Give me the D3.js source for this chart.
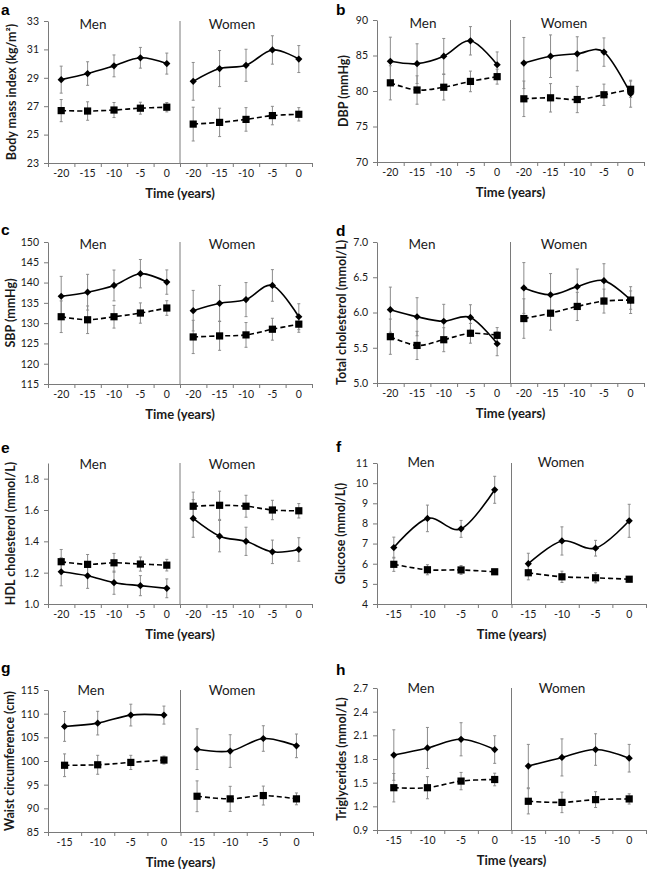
<!DOCTYPE html>
<html><head><meta charset="utf-8">
<script src="https://cdn.jsdelivr.net/npm/d3@7"></script>
<style>body{margin:0;background:#fff}</style>
</head><body><svg id="c" width="648" height="870"></svg>
<script>
// ---------- categories ----------
const years5 = [-20, -15, -10, -5, 0];
const years4 = [-15, -10, -5, 0];
const sexes = ["Men", "Women"];

// ---------- a: Body mass index ----------
const bmiCasesMen = [28.87, 29.3, 29.84, 30.41, 30.0];
const bmiCasesMenErr = [0.95, 0.83, 0.77, 0.73, 0.74];
const bmiCtrlMen = [26.69, 26.66, 26.73, 26.86, 26.93];
const bmiCtrlMenErr = [0.78, 0.65, 0.53, 0.42, 0.33];
const bmiCasesWomen = [28.75, 29.65, 29.88, 30.96, 30.32];
const bmiCasesWomenErr = [1.33, 1.27, 1.13, 1.0, 0.95];
const bmiCtrlWomen = [25.74, 25.86, 26.07, 26.34, 26.43];
const bmiCtrlWomenErr = [1.19, 1.0, 0.83, 0.65, 0.47];
const bmiTicks = [23, 25, 27, 29, 31, 33];

// ---------- b: DBP ----------
const dbpCasesMen = [84.18, 83.85, 84.9, 87.07, 83.7];
const dbpCasesMenErr = [3.4, 2.8, 2.5, 2.0, 1.8];
const dbpCtrlMen = [81.15, 80.14, 80.53, 81.35, 82.02];
const dbpCtrlMenErr = [2.4, 2.0, 1.8, 1.45, 1.05];
const dbpCasesWomen = [83.94, 84.9, 85.24, 85.48, 79.62];
const dbpCasesWomenErr = [3.6, 3.0, 2.4, 2.0, 1.9];
const dbpCtrlWomen = [78.9, 79.04, 78.8, 79.47, 80.24];
const dbpCtrlWomenErr = [2.5, 2.0, 1.85, 1.5, 1.15];
const dbpTicks = [70, 75, 80, 85, 90];

// ---------- c: SBP ----------
const sbpCasesMen = [136.63, 137.63, 139.29, 142.19, 140.12];
const sbpCasesMenErr = [4.9, 4.4, 3.8, 3.5, 3.0];
const sbpCtrlMen = [131.58, 130.83, 131.58, 132.49, 133.73];
const sbpCtrlMenErr = [3.9, 3.4, 2.8, 2.5, 1.8];
const sbpCasesWomen = [133.07, 134.89, 135.8, 139.29, 131.58];
const sbpCasesWomenErr = [5.0, 4.4, 4.2, 3.9, 3.2];
const sbpCtrlWomen = [126.6, 126.85, 127.1, 128.5, 129.75];
const sbpCtrlWomenErr = [4.1, 3.55, 3.05, 2.7, 2.0];
const sbpTicks = [115, 120, 125, 130, 135, 140, 145, 150];

// ---------- d: Total cholesterol ----------
const tcCasesMen = [6.04, 5.94, 5.876, 5.93, 5.557];
const tcCasesMenErr = [0.32, 0.27, 0.24, 0.18, 0.17];
const tcCtrlMen = [5.657, 5.533, 5.614, 5.705, 5.676];
const tcCtrlMenErr = [0.25, 0.2, 0.17, 0.14, 0.11];
const tcCasesWomen = [6.348, 6.252, 6.367, 6.452, 6.176];
const tcCasesWomenErr = [0.36, 0.3, 0.25, 0.24, 0.19];
const tcCtrlWomen = [5.914, 5.99, 6.086, 6.162, 6.176];
const tcCtrlWomenErr = [0.28, 0.24, 0.2, 0.17, 0.13];
const tcTicks = [5.0, 5.5, 6.0, 6.5, 7.0];

// ---------- e: HDL cholesterol ----------
const hdlCasesMen = [1.206, 1.18, 1.136, 1.117, 1.1];
const hdlCasesMenErr = [0.09, 0.08, 0.074, 0.064, 0.06];
const hdlCtrlMen = [1.27, 1.253, 1.263, 1.255, 1.248];
const hdlCtrlMenErr = [0.078, 0.063, 0.06, 0.045, 0.037];
const hdlCasesWomen = [1.546, 1.433, 1.40, 1.333, 1.348];
const hdlCasesWomenErr = [0.12, 0.1, 0.09, 0.075, 0.075];
const hdlCtrlWomen = [1.624, 1.63, 1.624, 1.6, 1.595];
const hdlCtrlWomenErr = [0.09, 0.09, 0.07, 0.062, 0.046];
const hdlTicks = [1.0, 1.2, 1.4, 1.6, 1.8];

// ---------- f: Glucose ----------
const gluCasesMen = [6.8, 8.25, 7.73, 9.67];
const gluCasesMenErr = [0.52, 0.66, 0.42, 0.67];
const gluCtrlMen = [5.97, 5.7, 5.69, 5.6];
const gluCtrlMenErr = [0.35, 0.25, 0.22, 0.1];
const gluCasesWomen = [6.0, 7.13, 6.77, 8.13];
const gluCasesWomenErr = [0.52, 0.7, 0.39, 0.82];
const gluCtrlWomen = [5.55, 5.35, 5.3, 5.23];
const gluCtrlWomenErr = [0.35, 0.28, 0.25, 0.12];
const gluTicks = [4, 5, 6, 7, 8, 9, 10, 11];

// ---------- g: Waist circumference ----------
const waistCasesMen = [107.3, 108.0, 109.7, 109.7];
const waistCasesMenErr = [3.15, 2.5, 2.3, 1.9];
const waistCtrlMen = [99.1, 99.2, 99.7, 100.2];
const waistCtrlMenErr = [2.4, 2.0, 1.5, 0.85];
const waistCasesWomen = [102.5, 102.1, 104.75, 103.2];
const waistCasesWomenErr = [4.3, 3.45, 2.7, 2.5];
const waistCtrlWomen = [92.55, 92.0, 92.7, 92.0];
const waistCtrlWomenErr = [3.25, 2.65, 2.0, 1.25];
const waistTicks = [85, 90, 95, 100, 105, 110, 115];

// ---------- h: Triglycerides ----------
const tgCasesMen = [1.85, 1.94, 2.05, 1.92];
const tgCasesMenErr = [0.32, 0.26, 0.21, 0.175];
const tgCtrlMen = [1.436, 1.436, 1.52, 1.54];
const tgCtrlMenErr = [0.18, 0.14, 0.11, 0.08];
const tgCasesWomen = [1.71, 1.82, 1.92, 1.81];
const tgCasesWomenErr = [0.275, 0.235, 0.2, 0.175];
const tgCtrlWomen = [1.264, 1.25, 1.285, 1.294];
const tgCtrlWomenErr = [0.16, 0.13, 0.1, 0.065];
const tgTicks = [0.9, 1.2, 1.5, 1.8, 2.1, 2.4, 2.7];

// ---------- panel definitions (built from arrays) ----------
const panels = [
  {letter: "a", label: "Body mass index (kg/m\u00B2)", years: years5, ticks: bmiTicks, yMin: 23, yMax: 33, fmt: d3.format("d"),
   Men: {cases: [bmiCasesMen, bmiCasesMenErr], ctrl: [bmiCtrlMen, bmiCtrlMenErr]},
   Women: {cases: [bmiCasesWomen, bmiCasesWomenErr], ctrl: [bmiCtrlWomen, bmiCtrlWomenErr]}},
  {letter: "b", label: "DBP (mmHg)", years: years5, ticks: dbpTicks, yMin: 70, yMax: 90, fmt: d3.format("d"),
   Men: {cases: [dbpCasesMen, dbpCasesMenErr], ctrl: [dbpCtrlMen, dbpCtrlMenErr]},
   Women: {cases: [dbpCasesWomen, dbpCasesWomenErr], ctrl: [dbpCtrlWomen, dbpCtrlWomenErr]}},
  {letter: "c", label: "SBP (mmHg)", years: years5, ticks: sbpTicks, yMin: 115, yMax: 150, fmt: d3.format("d"),
   Men: {cases: [sbpCasesMen, sbpCasesMenErr], ctrl: [sbpCtrlMen, sbpCtrlMenErr]},
   Women: {cases: [sbpCasesWomen, sbpCasesWomenErr], ctrl: [sbpCtrlWomen, sbpCtrlWomenErr]}},
  {letter: "d", label: "Total cholesterol (mmol/L)", years: years5, ticks: tcTicks, yMin: 5, yMax: 7, fmt: d3.format(".1f"),
   Men: {cases: [tcCasesMen, tcCasesMenErr], ctrl: [tcCtrlMen, tcCtrlMenErr]},
   Women: {cases: [tcCasesWomen, tcCasesWomenErr], ctrl: [tcCtrlWomen, tcCtrlWomenErr]}},
  {letter: "e", label: "HDL cholesterol (mmol/L)", years: years5, ticks: hdlTicks, yMin: 1.0, yMax: 1.9, fmt: d3.format(".1f"),
   Men: {cases: [hdlCasesMen, hdlCasesMenErr], ctrl: [hdlCtrlMen, hdlCtrlMenErr]},
   Women: {cases: [hdlCasesWomen, hdlCasesWomenErr], ctrl: [hdlCtrlWomen, hdlCtrlWomenErr]}},
  {letter: "f", label: "Glucose (mmol/L()", years: years4, ticks: gluTicks, yMin: 4, yMax: 11, fmt: d3.format("d"),
   Men: {cases: [gluCasesMen, gluCasesMenErr], ctrl: [gluCtrlMen, gluCtrlMenErr]},
   Women: {cases: [gluCasesWomen, gluCasesWomenErr], ctrl: [gluCtrlWomen, gluCtrlWomenErr]}},
  {letter: "g", label: "Waist circumference (cm)", years: years4, ticks: waistTicks, yMin: 85, yMax: 115, fmt: d3.format("d"),
   Men: {cases: [waistCasesMen, waistCasesMenErr], ctrl: [waistCtrlMen, waistCtrlMenErr]},
   Women: {cases: [waistCasesWomen, waistCasesWomenErr], ctrl: [waistCtrlWomen, waistCtrlWomenErr]}},
  {letter: "h", label: "Triglycerides (mmol/L)", years: years4, ticks: tgTicks, yMin: 0.9, yMax: 2.7, fmt: d3.format(".1f"),
   Men: {cases: [tgCasesMen, tgCasesMenErr], ctrl: [tgCtrlMen, tgCtrlMenErr]},
   Women: {cases: [tgCasesWomen, tgCasesWomenErr], ctrl: [tgCtrlWomen, tgCtrlWomenErr]}}
];

// ---------- layout (pixels) ----------
const layout = {
  a: {L: 48, T: 21, B: 163, R: 312, lx: 12, ltx: 1, lty: 15, menX: 93, womenX: 232, sexY: 29},
  b: {L: 377, T: 20, B: 162, R: 644, lx: 344, ltx: 336, lty: 15, menX: 423, womenX: 564, sexY: 28},
  c: {L: 48, T: 242, B: 384, R: 312, lx: 11, ltx: 1, lty: 235, menX: 93, womenX: 232, sexY: 249},
  d: {L: 377, T: 242, B: 383, R: 644, lx: 342, ltx: 336, lty: 236, menX: 422, womenX: 564, sexY: 249},
  e: {L: 48, T: 463, B: 604, R: 312, lx: 11, ltx: 1, lty: 453, menX: 93, womenX: 232, sexY: 469},
  f: {L: 377, T: 463, B: 604, R: 646, lx: 341, ltx: 336, lty: 452, menX: 421, womenX: 561, sexY: 467},
  g: {L: 48, T: 690, B: 832, R: 313, lx: 10, ltx: 1, lty: 673, menX: 91, womenX: 232, sexY: 695},
  h: {L: 377, T: 688, B: 830, R: 646, lx: 342, ltx: 336, lty: 675, menX: 421, womenX: 562, sexY: 693}
};

const FONT = "Lato, 'Open Sans', sans-serif";
const AXIS_COLOR = "#7a7a7a";
const TEXT_COLOR = "#1a1a1a";
const ERR_COLOR = "#8c8c8c";

const svg = d3.select("#c");

function styleAxis(sel) {
  sel.attr("color", AXIS_COLOR);
  sel.selectAll("text").attr("font-family", FONT).attr("font-size", 10.5).attr("fill", TEXT_COLOR);
}

panels.forEach(p => {
  const lay = layout[p.letter];
  const g = svg.append("g");
  const n = p.years.length;
  const keys = sexes.flatMap(s => p.years.map(y => s + "|" + y));
  const x = d3.scaleBand().domain(keys).range([lay.L, lay.R]).padding(0);
  const xb = d3.scaleLinear().domain([0, 2 * n]).range([lay.L, lay.R]);
  const y = d3.scaleLinear().domain([p.yMin, p.yMax]).range([lay.B, lay.T]);
  const cx = (s, yr) => x(s + "|" + yr) + x.bandwidth() / 2;

  // Y axis
  g.append("g").attr("transform", `translate(${lay.L},0)`)
    .call(d3.axisLeft(y).tickValues(p.ticks).tickFormat(p.fmt).tickSize(4).tickSizeOuter(0).tickPadding(5))
    .call(styleAxis);

  // X axis: ticks at category boundaries
  g.append("g").attr("transform", `translate(0,${lay.B})`)
    .call(d3.axisBottom(xb).tickValues(d3.range(2 * n + 1)).tickFormat("").tickSize(4).tickSizeOuter(0))
    .call(styleAxis);
  // X axis labels at category centres
  const xl = g.append("g").attr("transform", `translate(0,${lay.B})`)
    .call(d3.axisBottom(x).tickFormat(k => k.split("|")[1]).tickSize(0).tickPadding(7))
    .call(styleAxis);
  xl.select(".domain").remove();

  // Divider between men and women
  g.append("line")
    .attr("x1", xb(n)).attr("x2", xb(n)).attr("y1", lay.T).attr("y2", lay.B)
    .attr("stroke", AXIS_COLOR).attr("stroke-width", 1);

  // Labels
  g.append("text").attr("x", lay.ltx).attr("y", lay.lty).text(p.letter)
    .attr("font-family", "'Liberation Sans', Arial, sans-serif").attr("font-weight", "bold")
    .attr("font-size", 15.5).attr("fill", "#000");
  g.append("text")
    .attr("transform", `translate(${lay.lx},${(lay.T + lay.B) / 2}) rotate(-90)`)
    .attr("text-anchor", "middle").attr("dy", "0.35em")
    .attr("font-family", FONT).attr("font-weight", "bold").attr("font-size", 12.5)
    .attr("fill", TEXT_COLOR).text(p.label);
  g.append("text").attr("x", xb(n)).attr("y", lay.B + 35).attr("text-anchor", "middle")
    .attr("font-family", FONT).attr("font-weight", "bold").attr("font-size", 13)
    .attr("fill", TEXT_COLOR).text("Time (years)");
  g.append("text").attr("x", lay.menX).attr("y", lay.sexY).attr("text-anchor", "middle")
    .attr("font-family", FONT).attr("font-size", 13.5).attr("fill", TEXT_COLOR).text("Men");
  g.append("text").attr("x", lay.womenX).attr("y", lay.sexY).attr("text-anchor", "middle")
    .attr("font-family", FONT).attr("font-size", 13.5).attr("fill", TEXT_COLOR).text("Women");

  // build series
  const series = [];
  sexes.forEach(s => {
    ["ctrl", "cases"].forEach(grp => {
      const [vals, errs] = p[s][grp];
      series.push({
        sex: s, grp,
        pts: vals.map((v, i) => ({yr: p.years[i], v, e: errs[i]}))
      });
    });
  });

  // Error bars
  const eg = g.append("g").attr("stroke", ERR_COLOR).attr("stroke-width", 1);
  series.forEach(sr => {
    sr.pts.forEach(d => {
      const X = cx(sr.sex, d.yr);
      eg.append("line").attr("x1", X).attr("x2", X).attr("y1", y(d.v + d.e)).attr("y2", y(d.v - d.e));
      eg.append("line").attr("x1", X - 1.5).attr("x2", X + 1.5).attr("y1", y(d.v + d.e)).attr("y2", y(d.v + d.e));
      eg.append("line").attr("x1", X - 1.5).attr("x2", X + 1.5).attr("y1", y(d.v - d.e)).attr("y2", y(d.v - d.e));
    });
  });

  // Lines
  const line = d3.line().x(d => d.X).y(d => y(d.v)).curve(d3.curveCardinal.tension(0));
  series.forEach(sr => {
    const pts = sr.pts.map(d => ({X: cx(sr.sex, d.yr), v: d.v}));
    g.append("path").attr("d", line(pts)).attr("fill", "none").attr("stroke", "#000")
      .attr("stroke-width", 1.6)
      .attr("stroke-dasharray", sr.grp === "ctrl" ? "5,3" : null);
  });

  // Markers
  series.forEach(sr => {
    sr.pts.forEach(d => {
      const X = cx(sr.sex, d.yr), Y = y(d.v);
      if (sr.grp === "ctrl") {
        g.append("rect").attr("x", X - 3.6).attr("y", Y - 3.6).attr("width", 7.2).attr("height", 7.2).attr("fill", "#000");
      } else {
        const r = 3.6;
        g.append("path").attr("d", `M${X},${Y - r}L${X + r},${Y}L${X},${Y + r}L${X - r},${Y}Z`).attr("fill", "#000");
      }
    });
  });
});
</script>
</body></html>
